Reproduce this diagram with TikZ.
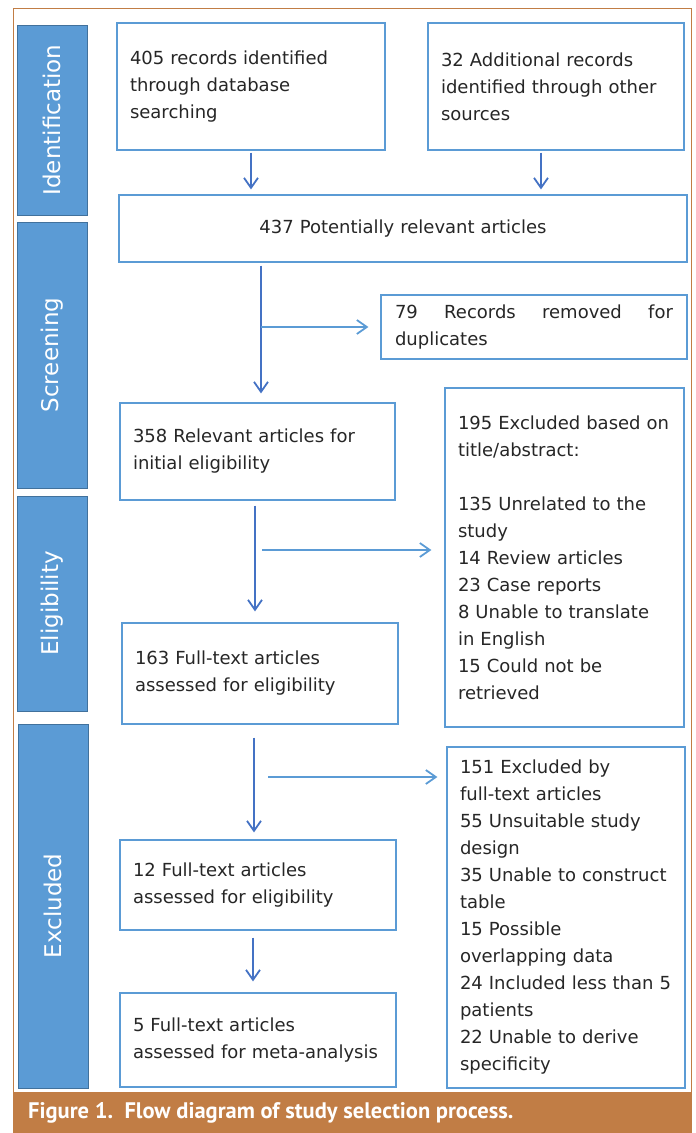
\documentclass[tikz,border=0pt]{standalone}
\usepackage{fontspec}
\setmainfont{DejaVu Sans}
\newfontfamily\capfont{PT Sans}
\usetikzlibrary{arrows.meta,calc}
\definecolor{boxline}{HTML}{5B9BD5}
\definecolor{arrowc}{HTML}{4472C4}
\definecolor{stagefill}{HTML}{5B9BD5}
\definecolor{stageline}{HTML}{41719C}
\definecolor{frame}{HTML}{C17D45}
\definecolor{txt}{HTML}{262626}

\begin{document}
\begin{tikzpicture}[x=1pt,y=-1pt,
  box/.style={draw=boxline,line width=1.2pt,inner xsep=13pt,inner ysep=0pt,align=left,
              font=\fontsize{18}{27}\selectfont,text=txt},
  stage/.style={draw=stageline,fill=stagefill,line width=1pt,rotate=90,minimum height=70,
                font=\fontsize{23}{27}\selectfont,text=white},
  arr/.style={-{Straight Barb[length=10pt,width=14pt]},line width=1.8pt,arrowc},
  branch/.style={arr,boxline}]

\useasboundingbox (0,0) rectangle (696,1133);
\draw[frame,line width=1pt] (13,8) rectangle (691,1133);
\fill[frame] (13,1092) rectangle (691,1133);

% stages
\node[stage,minimum width=190] (sid) at (52,120) {Identification};
\node[stage,minimum width=266] (ssc) at (52,355) {Screening};
\node[stage,minimum width=215] (sel) at (52,603.5) {Eligibility};
\node[stage,minimum width=364] (sex) at (53,906) {Excluded};

% boxes
\node[box,minimum width=268,minimum height=127,text width=242] (A) at (251,86.5)
  {405 records identified\\ through database\\ searching};
\node[box,minimum width=256,minimum height=127,text width=230] (B) at (556,86.5)
  {32 Additional records\\ identified through other\\ sources};
\node[box,minimum width=568,minimum height=67,text width=542,align=center] (C) at (403,228.5)
  {437 Potentially relevant articles};
\node[box,minimum width=306,minimum height=64,inner xsep=14pt,text width=278,align=justify] (D) at (534,327)
  {79 Records removed for \mbox{duplicates}};
\node[box,minimum width=275,minimum height=97,text width=249] (E) at (257.5,451.5)
  {358 Relevant articles for\\ initial eligibility};
\node[box,minimum width=239,minimum height=339,text width=213] (F) at (564.5,557.5)
  {195 Excluded based on\\ title/abstract:\\[27pt]
   135 Unrelated to the\\ study\\ 14 Review articles\\ 23 Case reports\\
   8 Unable to translate\\ in English\\ 15 Could not be\\ retrieved};
\node[box,minimum width=276,minimum height=101,text width=250] (G) at (260,673.5)
  {163 Full-text articles\\ assessed for eligibility};
\node[box,minimum width=238,minimum height=341,text width=212] (H) at (566,917.5)
  {151 Excluded by\\ full-text articles\\ 55 Unsuitable study\\ design\\
   35 Unable to construct\\ table\\ 15 Possible\\ overlapping data\\
   24 Included less than 5\\ patients\\ 22 Unable to derive\\ specificity};
\node[box,minimum width=276,minimum height=90,text width=250] (I) at (258,885)
  {12 Full-text articles\\ assessed for eligibility};
\node[box,minimum width=276,minimum height=94,text width=250] (J) at (258,1040)
  {5 Full-text articles\\ assessed for meta-analysis};

% arrows
\draw[arr,shorten <=2pt,shorten >=5pt] (A.south) -- (A.south |- C.north);
\draw[arr,shorten <=2pt,shorten >=5pt] ([xshift=-15]B.south) -- ([xshift=-15]B.south |- C.north);
\draw[arr,shorten <=3pt,shorten >=9pt] ([xshift=-142]C.south) -- ([xshift=3.5]E.north);
\draw[arr,shorten <=5pt,shorten >=11pt] ([xshift=-2.5]E.south) -- ([xshift=-5]G.north);
\draw[arr,shorten <=13pt,shorten >=7pt] ([xshift=-6]G.south) -- ([xshift=-4]I.north);
\draw[arr,shorten <=7pt,shorten >=11pt] ([xshift=-5]I.south) -- ([xshift=-5]J.north);

\coordinate (c1) at (261,327);
\coordinate (e1) at (262,550);
\coordinate (g1) at (268,777);
\draw[branch,shorten >=12pt] (c1) -- (c1 -| D.west);
\draw[branch,shorten >=13pt] (e1) -- (e1 -| F.west);
\draw[branch,shorten >=9pt] (g1) -- (g1 -| H.west);

% caption
\node[anchor=west,inner sep=0pt,text=white,font=\capfont\bfseries\fontsize{22.5}{26}\selectfont] (cap) at (28,1113)
  {Figure 1.\ \ Flow diagram of study selection process.};
\end{tikzpicture}
\end{document}
